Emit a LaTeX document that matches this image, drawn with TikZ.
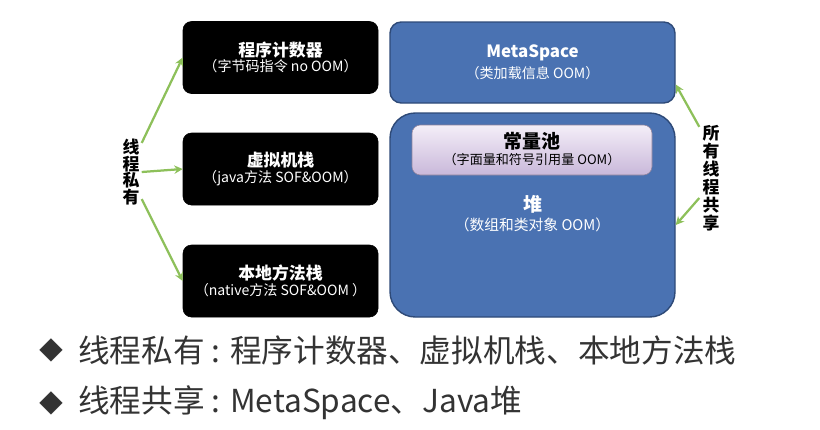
\documentclass[tikz,border=0pt]{standalone}
\usepackage{fontspec}
\setmainfont{Noto Sans CJK SC}
\usetikzlibrary{arrows.meta}
\definecolor{metablue}{HTML}{4A72B2}
\definecolor{metaedge}{HTML}{2E4A78}
\definecolor{arrowgreen}{HTML}{8DC05A}
\definecolor{pooltop}{HTML}{F4EEF8}
\definecolor{poolbottom}{HTML}{C9B8DA}
\newcommand{\boxtitle}[1]{\textbf{\fontsize{12}{14}\selectfont #1}}
\newcommand{\boxsub}[1]{{\fontsize{10}{12}\selectfont #1}}
\tikzset{
  areabox/.style={draw=black,fill=black,rounded corners=6pt,text=white,align=center,minimum width=195*0.025cm,minimum height=72*0.025cm},
  sharebox/.style={draw=metaedge,line width=1pt,fill=metablue,text=white,align=center,minimum width=285*0.025cm},
  title/.style={font=\bfseries\fontsize{12}{14}\selectfont},
  bigtitle/.style={font=\bfseries\fontsize{13.5}{15}\selectfont},
  sub/.style={font=\fontsize{10}{12}\selectfont},
  vlabel/.style={font=\bfseries\fontsize{12}{12}\selectfont,align=center,inner sep=0pt},
  greenarrow/.style={draw=arrowgreen,line width=1.6pt,-{Stealth[length=6pt,width=6pt]}},
  bullet/.style={anchor=west,font=\fontsize{22.5}{26}\selectfont,text=black!80,inner sep=0pt}
}
\begin{document}
\begin{tikzpicture}[x=0.025cm,y=-0.025cm]
			\useasboundingbox (0,0) rectangle (820,429);
			\node[areabox] (pc) at (280.5,57.5) {\boxtitle{程序计数器}\\[-1pt]\boxsub{（字节码指令 no OOM）}};
			\node[areabox] (vm) at (280.5,169) {\boxtitle{虚拟机栈}\\[-1pt]\boxsub{（java方法 SOF\&OOM）}};
			\node[areabox] (native) at (280.5,281) {\boxtitle{本地方法栈}\\[-1pt]\boxsub{（native方法 SOF\&OOM ）}};

			\node[sharebox,rounded corners=8pt,minimum height=81*0.025cm] (meta) at (532.5,62.5) {};
			\node[sharebox,rounded corners=18pt,minimum height=204*0.025cm] (heap) at (532.5,215) {};
			\node[draw=poolbottom!70!black,rounded corners=6pt,top color=pooltop,bottom color=poolbottom,minimum width=240*0.025cm,minimum height=50*0.025cm] (pool) at (532,150) {};

			\node[title,text=white] (metat) at (532.5,53) {MetaSpace};
			\node[sub,text=white] (metas) at (532.5,73) {（类加载信息 OOM）};
			\node[bigtitle,text=black] (poolt) at (532,141) {常量池};
			\node[sub,font=\fontsize{9.3}{11}\selectfont,text=black] (pools) at (532,160) {（字面量和符号引用量 OOM）};
			\node[bigtitle,text=white] (heapt) at (532.5,204) {堆};
			\node[sub,font=\fontsize{10.5}{12}\selectfont,text=white] (heaps) at (532.5,225) {（数组和类对象 OOM）};

			\node[vlabel,font=\bfseries\fontsize{12}{11.7}\selectfont] (private) at (131,172) {线\\程\\私\\有};
			\node[vlabel,font=\bfseries\fontsize{12}{12.8}\selectfont] (shared) at (711,178) {所\\有\\线\\程\\共\\享};

			\path [greenarrow] (private.north east) ++(2,4) -- (pc.west);
			\path [greenarrow] (private.east) ++(2,0) -- (vm.west);
			\path [greenarrow] (private.south east) ++(2,-6) -- (native.west);
			\path [greenarrow] (shared.north west) ++(-3,2) -- ([yshift=-22*0.025cm]meta.east);
			\path [greenarrow] (shared.west) ++(-3,20) -- ([yshift=-10*0.025cm]heap.east);

			\node[bullet,font=\fontsize{17}{17}\selectfont] (dot1) at (39,350) {◆};
			\node[bullet] (line1) at (78,350) {线程私有 : 程序计数器、虚拟机栈、本地方法栈};
			\node[bullet,font=\fontsize{17}{17}\selectfont] (dot2) at (39,403) {◆};
			\node[bullet] (line2) at (78,403) {线程共享 : MetaSpace、Java堆};
		\end{tikzpicture}
\end{document}
